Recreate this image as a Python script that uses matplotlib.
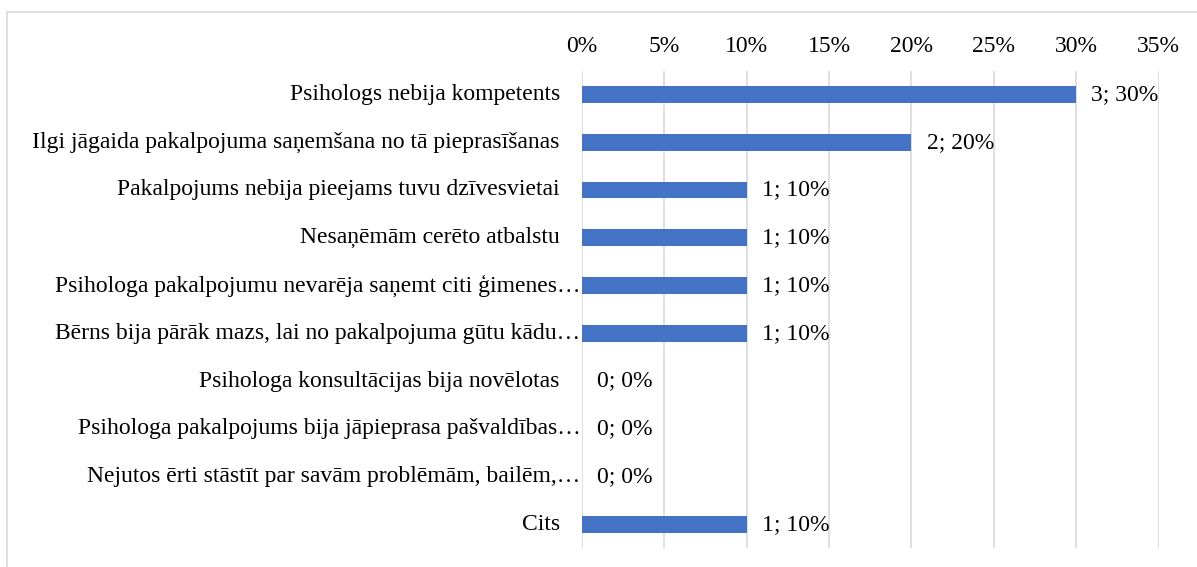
import matplotlib
matplotlib.use('Agg')
import matplotlib.pyplot as plt
from matplotlib.patches import Rectangle

plt.rcParams['font.family'] = ['Liberation Serif', 'DejaVu Serif']

categories = [
    "Psihologs nebija kompetents",
    "Ilgi jāgaida pakalpojuma saņemšana no tā pieprasīšanas",
    "Pakalpojums nebija pieejams tuvu dzīvesvietai",
    "Nesaņēmām cerēto atbalstu",
    "Psihologa pakalpojumu nevarēja saņemt citi ģimenes…",
    "Bērns bija pārāk mazs, lai no pakalpojuma gūtu kādu…",
    "Psihologa konsultācijas bija novēlotas",
    "Psihologa pakalpojums bija jāpieprasa pašvaldības…",
    "Nejutos ērti stāstīt par savām problēmām, bailēm,…",
    "Cits",
]
counts = [3, 2, 1, 1, 1, 1, 0, 0, 0, 1]
shares = [0.30, 0.20, 0.10, 0.10, 0.10, 0.10, 0.0, 0.0, 0.0, 0.10]
xticks = [0, 0.05, 0.10, 0.15, 0.20, 0.25, 0.30, 0.35]

BAR_COLOR = "#4472C4"
GRID_COLOR = "#D9D9D9"
FS = 17

fig = plt.figure(figsize=(11.97, 5.67), dpi=100)
ax = fig.add_axes([582 / 1197, 1 - 548.3 / 567, (1158.5 - 582) / 1197, (548.3 - 70.5) / 567])

ypos = list(range(len(categories)))
ax.barh(ypos, shares, height=0.35, color=BAR_COLOR, zorder=3)

ax.set_xlim(0, 0.35)
ax.set_ylim(len(categories) - 0.5, -0.5)
ax.set_xticks(xticks)
ax.set_xticklabels([f"{int(round(t * 100))}%" for t in xticks], fontsize=FS)
ax.xaxis.tick_top()
ax.tick_params(axis='x', length=0, pad=10)
ax.set_yticks([])
ax.grid(axis='x', color=GRID_COLOR, linewidth=1.2, zorder=0)
for s in ax.spines.values():
    s.set_visible(False)

# category labels, truncated ones sit right against the axis
for y, name in zip(ypos, categories):
    off = -1 if name.endswith("…") else -16
    ax.annotate(name, xy=(0, y), xycoords=('axes fraction', 'data'),
                xytext=(off, 0), textcoords='offset points',
                ha='right', va='center', fontsize=FS)

# data labels
for y, c, v in zip(ypos, counts, shares):
    ax.annotate(f"{c}; {int(round(v * 100))}%", xy=(v, y),
                xytext=(11, 0), textcoords='offset points',
                ha='left', va='center', fontsize=FS)

# outer chart border (extends past the image on right/bottom)
fig.patches.append(Rectangle((7 / 1197, -0.1), 1.2, 1 - 12 / 567 + 0.1,
                             transform=fig.transFigure, fill=False,
                             edgecolor=GRID_COLOR, linewidth=1.2))

fig.savefig("out.png", dpi=100)
